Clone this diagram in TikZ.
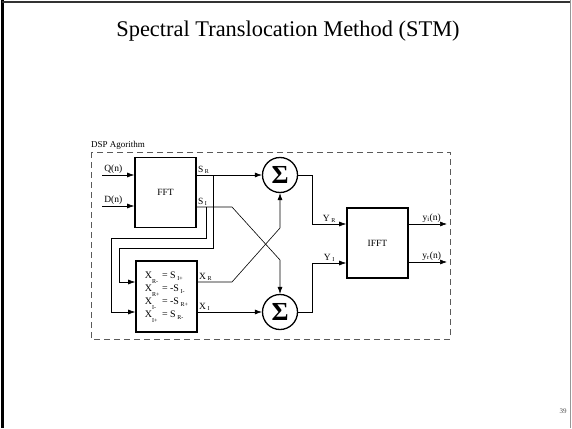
\documentclass[tikz,border=0pt]{standalone}
\usepackage{fontspec}
\setmainfont{Liberation Serif}
\usetikzlibrary{arrows.meta}
\definecolor{framegray}{RGB}{150,150,150}
\definecolor{dashgray}{RGB}{90,90,90}
\newcommand{\xsub}[1]{\raisebox{-4.5pt}{\fontsize{6}{6}\selectfont #1}}
\newcommand{\ssub}[1]{\,\raisebox{-1.5pt}{\fontsize{6}{6}\selectfont #1}}

\begin{document}
\begin{tikzpicture}[x=1pt, y=-1pt,
    block/.style={rectangle, draw, line width=1.6pt, minimum width=61pt,
        minimum height=70pt, font=\fontsize{9.5}{11}\selectfont, inner sep=0pt},
    summer/.style={circle, draw, line width=1.3pt, minimum size=35pt,
        inner sep=0pt, font=\fontsize{26}{26}\bfseries\selectfont},
    arrow/.style={-{Latex[length=7pt, width=5pt]}, line width=0.6pt},
    lbl/.style={font=\fontsize{9.5}{11}\selectfont, inner sep=1pt}
]
    \useasboundingbox (0,0) rectangle (572,428);

    % Slide frame and title
    \draw[line width=2.6pt] (2.5,0) -- (2.5,428);
    \draw[line width=2pt, black!80] (2,2) -- (570,2);
    \draw[line width=1pt, framegray] (570.5,0) -- (570.5,428);
    \node (title) at (288,31) {\fontsize{22.4}{26}\selectfont Spectral Translocation Method (STM)};
    \node[font=\fontsize{7}{8}\selectfont, text=black!70] (page) at (563,411) {39};

    % DSP block
    \draw[dashed, dash pattern=on 6pt off 4pt, line width=0.7pt, dashgray] (91,152) rectangle (450,339);
    \node[anchor=south west, inner sep=0pt, font=\fontsize{9}{10}\selectfont] (dsp) at (91,150) {DSP Agorithm};

    % Column 1
    \node[block] (fft) at (165.5,192.5) {FFT};
    \node[block, minimum height=71pt, font=\fontsize{10}{11}\selectfont] (swap) at (166.5,296.5) {%
        \begin{tabular}{@{}l@{\ }c@{\ }l@{}}
        X\xsub{R-} & = & S\ssub{I+}\\[2pt]
        X\xsub{R+} & = & -S\ssub{I-}\\[2pt]
        X\xsub{I-} & = & -S\ssub{R+}\\[2pt]
        X\xsub{I+} & = & S\ssub{R-}
        \end{tabular}};

    % Column 2
    \node[summer] (sumR) at (280,175) {Σ};
    \node[summer] (sumI) at (280,312) {Σ};

    % Column 3
    \node[block] (ifft) at (377.5,243) {IFFT};

    \coordinate (qin) at (102,175);
    \coordinate (din) at (102,206);
    \coordinate (yiout) at (447,224);
    \coordinate (yrout) at (447,262);

    \draw[arrow] (qin) -- (qin -| fft.west) node[lbl, pos=0.35, above] {Q(n)};
    \draw[arrow] (din) -- (din -| fft.west) node[lbl, pos=0.35, above] {D(n)};

    \draw[arrow] (fft.east |- sumR) node[lbl, above right] {S\ssub{R}} -- (sumR);
    \draw[arrow] ([yshift=-14.5pt]fft.east) node[lbl, above right] {S\ssub{I}}
        -- (232,207) -- (280,260) -- (sumI);

    % Back paths into the swap block
    \draw[arrow] (213,175) -- (213,248) -- (119,248) |- ([yshift=14.5pt]swap.west);
    \draw[arrow] (206,207) -- (206,238) -- (111,238) |- (swap.west |- sumI);

    \draw[arrow] ([yshift=14.5pt]swap.east) node[lbl, above right] {X\ssub{R}}
        -- (232,282) -- (280,228) -- (sumR);
    \draw[arrow] (swap.east |- sumI) node[lbl, above right] {X\ssub{I}} -- (sumI);

    \draw[arrow] (sumR.east) -- ++(14,0) |- ([yshift=19pt]ifft.west)
        node[lbl, pos=0.75, above] {Y\ssub{R}};
    \draw[arrow] (sumI.east) -- ++(14,0) |- ([yshift=-20pt]ifft.west)
        node[lbl, pos=0.75, above] {Y\ssub{I}};

    \draw[arrow] ([yshift=19pt]ifft.east) -- (yiout) node[lbl, pos=0.6, above] {y\textsubscript{i}(n)};
    \draw[arrow] ([yshift=-19pt]ifft.east) -- (yrout) node[lbl, pos=0.6, above] {y\textsubscript{r}(n)};
\end{tikzpicture}
\end{document}
